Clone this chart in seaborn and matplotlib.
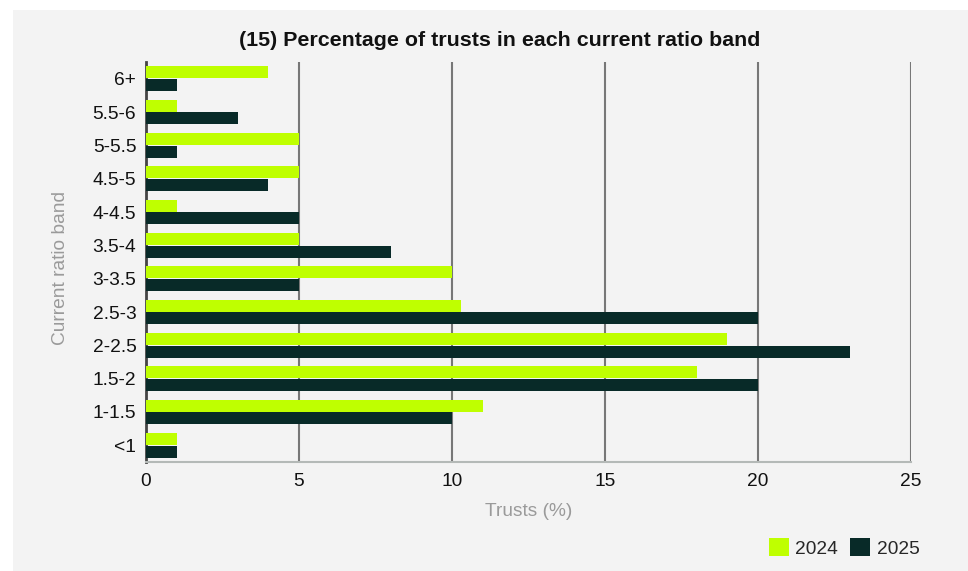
import matplotlib
matplotlib.use("Agg")
import matplotlib.pyplot as plt
from matplotlib.patches import Rectangle, Patch
import seaborn as sns
import pandas as pd

bands = ["6+", "5.5-6", "5-5.5", "4.5-5", "4-4.5", "3.5-4", "3-3.5",
         "2.5-3", "2-2.5", "1.5-2", "1-1.5", "<1"]
trusts_2024 = [4, 1, 5, 5, 1, 5, 10, 10.3, 19, 18, 11, 1]
trusts_2025 = [1, 3, 1, 4, 5, 8, 5, 20, 23, 20, 10, 1]
years = ["2024", "2025"]
colors = ["#bfff00", "#082a28"]

df = pd.concat([
    pd.DataFrame({"band": bands, "pct": trusts_2024, "year": years[0]}),
    pd.DataFrame({"band": bands, "pct": trusts_2025, "year": years[1]}),
])

sns.set_theme(style="white")
plt.rcParams["font.family"] = ["Liberation Sans", "DejaVu Sans"]

fig = plt.figure(figsize=(9.68, 5.71), dpi=100, facecolor="white")
# light panel behind the whole chart
fig.patches.append(Rectangle((13 / 968, 0), 1, 1 - 10 / 571,
                             transform=fig.transFigure, facecolor="#f3f3f3",
                             edgecolor="none", zorder=-10))
ax = fig.add_axes([146 / 968, 1 - 462 / 571, (911 - 146) / 968, 400 / 571])
ax.set_zorder(1)
ax.set_facecolor("#f3f3f3")

sns.barplot(data=df, y="band", x="pct", hue="year", order=bands,
            hue_order=years, palette=colors, orient="h", width=0.76,
            gap=0.04, saturation=1, legend=False, linewidth=0, ax=ax, zorder=3)

ax.set_xlim(0, 25)
ax.set_xticks([0, 5, 10, 15, 20, 25])
ax.xaxis.grid(True, color="#777777", linewidth=1.5, zorder=1)
ax.set_axisbelow(True)
for side in ["top", "right"]:
    ax.spines[side].set_visible(False)
ax.spines["left"].set_color("#444444")
ax.spines["left"].set_linewidth(2)
ax.spines["bottom"].set_color("#b4b9b7")
ax.spines["bottom"].set_linewidth(1.5)
ax.tick_params(axis="both", length=0, labelsize=13.8, labelcolor="#111111")
ax.tick_params(axis="x", pad=8)
ax.tick_params(axis="y", pad=7)

ax.set_xlabel("Trusts (%)", fontsize=13.8, color="#9a9a9a", labelpad=9)
ax.set_ylabel("Current ratio band", fontsize=13.8, color="#9a9a9a")
ax.yaxis.set_label_coords(-0.101, 0.485)

fig.text(500 / 968, 1 - 40 / 571, "(15) Percentage of trusts in each current ratio band",
         ha="center", va="center", fontsize=15.4, fontweight="bold", color="#111111")

handles = [Patch(facecolor=c, edgecolor="none") for c in colors]
fig.legend(handles, years, loc="center right", bbox_to_anchor=(927 / 968, 1 - 548 / 571),
           ncol=2, frameon=False, fontsize=13.8, handlelength=1.05, handleheight=1.05,
           handletextpad=0.35, columnspacing=0.6, borderaxespad=0)

fig.savefig("out.png", dpi=100, facecolor="white")
